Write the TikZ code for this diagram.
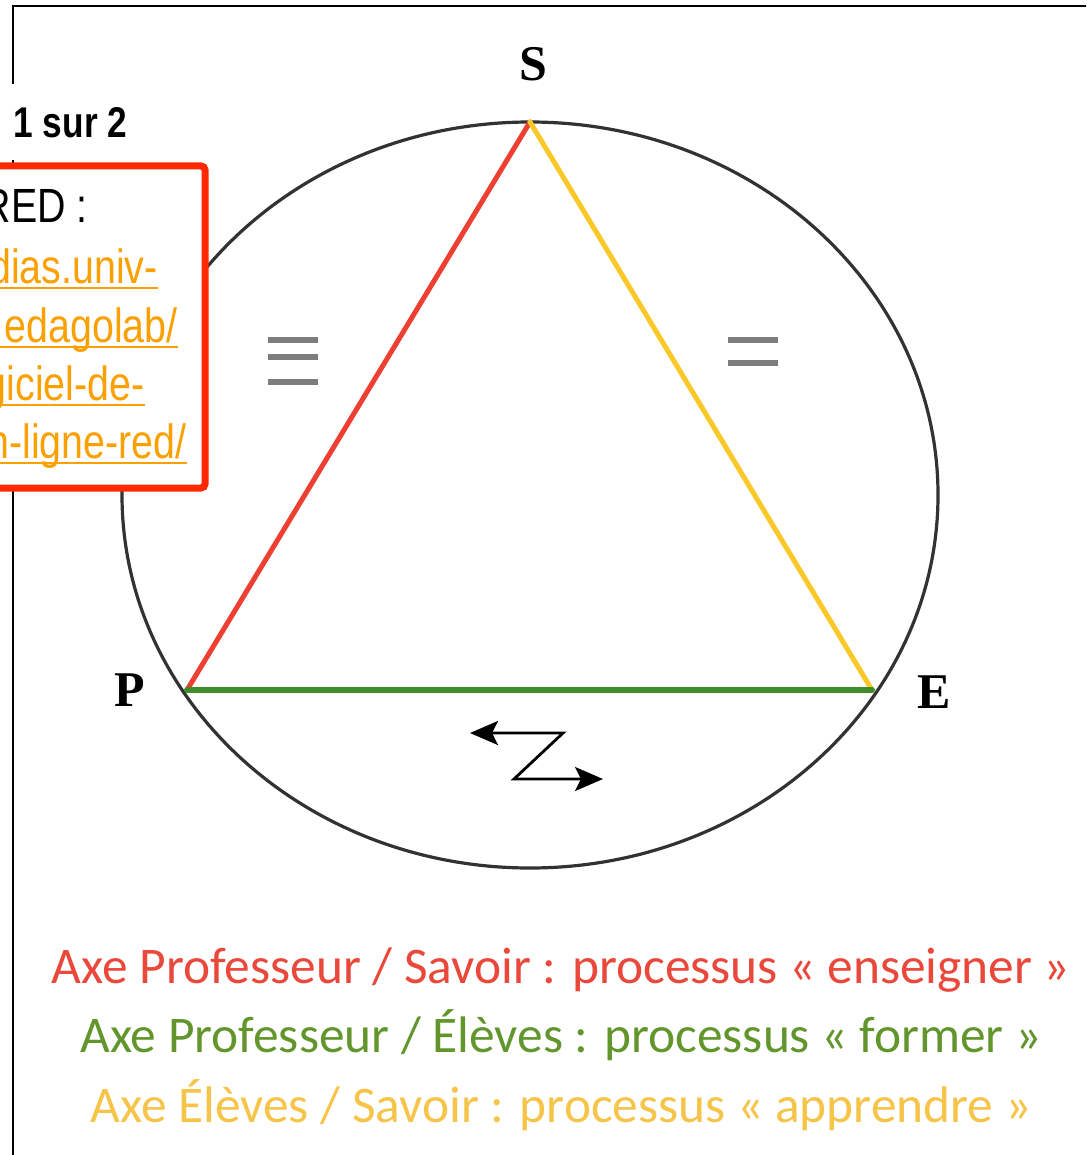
\documentclass[tikz,border=0pt]{standalone}
\usepackage{fontspec}
\usepackage{xcolor}
\usetikzlibrary{arrows.meta}
\setmainfont{Liberation Serif}
\newfontfamily\legendFont{Carlito}
\newfontfamily\narrowFont[FakeStretch=0.82]{Liberation Sans}
\definecolor{axeRed}{RGB}{238,64,50}
\definecolor{axeGreen}{RGB}{62,140,44}
\definecolor{axeYellow}{RGB}{250,200,40}
\definecolor{legendRed}{RGB}{235,72,60}
\definecolor{legendGreen}{RGB}{98,150,45}
\definecolor{legendYellow}{RGB}{246,196,72}
\definecolor{boxRed}{RGB}{255,40,0}
\definecolor{linkOrange}{RGB}{250,160,0}
\definecolor{markGray}{RGB}{125,125,125}
\definecolor{circleGray}{RGB}{50,50,50}

\begin{document}
\begin{tikzpicture}[x=0.5pt,y=-0.5pt,
  vertex/.style={font=\bfseries\fontsize{25}{25}\selectfont},
  axe/.style={line width=2.5pt,line cap=round},
  eqmark/.style={markGray,line width=2.6pt},
  legend/.style={font=\legendFont\fontsize{25.7}{26}\selectfont,anchor=base},
  link/.style={font=\narrowFont\fontsize{24}{26}\selectfont,text=linkOrange,inner sep=0pt,anchor=base east}]
\useasboundingbox (0,0) rectangle (1086,1155);
\clip (0,0) rectangle (1086,1155);
\fill[white] (0,0) rectangle (1086,1155);
\draw[line width=1.3pt] (1100,6) -| (13,1170);

\draw[circleGray,line width=1.6pt] (530,495) ellipse [x radius=408, y radius=373];

\coordinate (S) at (530,122);
\coordinate (P) at (187,690);
\coordinate (E) at (872,690);
\draw[axe,axeRed] (P) -- (S);
\draw[axe,axeYellow] (S) -- (E);
\draw[axe,axeGreen,line width=3pt] (P) -- (E);

\node[vertex] (labelS) at (533,64) {S};
\node[vertex] (labelP) at (130,690) {P};
\node[vertex] (labelE) at (934,692) {E};

\foreach \y in {340,357,382}
  \draw[eqmark] (268,\y) -- (318,\y);
\foreach \y in {340,363}
  \draw[eqmark] (728,\y) -- (778,\y);

\coordinate (zStart) at (470,733);
\coordinate (zTop) at (563,733);
\coordinate (zLow) at (514,779);
\coordinate (zEnd) at (603,779);
\draw[line width=1.4pt,{Stealth[length=14pt,width=12pt,inset=3pt]}-{Stealth[length=14pt,width=12pt,inset=3pt]}] (zStart) -- (zTop) -- (zLow) -- (zEnd);

\node[legend,text=legendRed] (axePS) at (561,983) {Axe Professeur / Savoir : processus « enseigner »};
\node[legend,text=legendGreen] (axePE) at (561,1052) {Axe Professeur / Élèves : processus « former »};
\node[legend,text=legendYellow] (axeES) at (561,1122) {Axe Élèves / Savoir : processus « apprendre »};

\node[fill=white,inner sep=0pt,anchor=north west,minimum width=70pt,minimum height=38pt,font=\narrowFont\bfseries\fontsize{21.5}{22}\selectfont] (pageCount) at (0,84) {1 sur 2};
\node[draw=boxRed,line width=3.5pt,fill=white,rounded corners=2pt,inner sep=0pt,anchor=north east,minimum width=125pt,minimum height=161pt] (redBox) at (208.5,162.5) {};
\node[link,text=black] (redLabel) at (88,222) {RED :};
\node[link] (urlA) at (158,283) {dias.univ-};
\node[link] (urlB) at (178,342) {edagolab/};
\node[link] (urlC) at (145,400) {giciel-de-};
\node[link] (urlD) at (187,458) {n-ligne-red/};
\foreach \n in {urlA,urlB,urlC,urlD}
  \draw[linkOrange,line width=1.2pt] ([yshift=-2.5pt]\n.base east) -- ++(-400,0);
\end{tikzpicture}
\end{document}
